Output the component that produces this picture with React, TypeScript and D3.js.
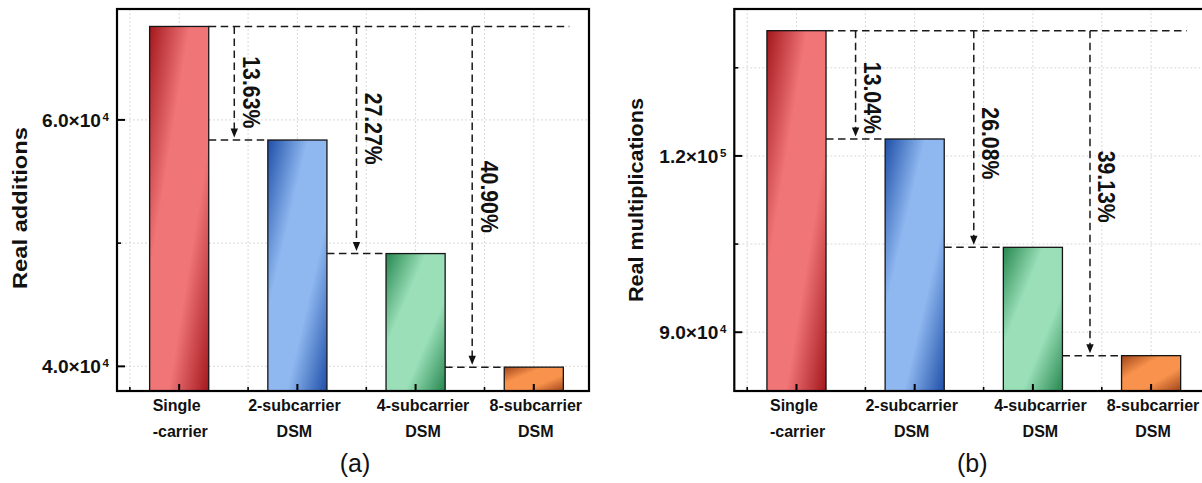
import React from "react";
import * as d3 from "d3";

// ---------- data ----------
const catLine1 = ["Single", "2-subcarrier", "4-subcarrier", "8-subcarrier"];
const catLine2 = ["-carrier", "DSM", "DSM", "DSM"];
const additions = [67584, 58368, 49152, 39936];
const multiplications = [141312, 122880, 104448, 86016];
const addMajorTicks = [40000, 60000];
const addMinorTicks = [50000];
const addTickText = ["4.0×10", "6.0×10"];
const addTickExp = ["4", "4"];
const mulMajorTicks = [90000, 120000];
const mulMinorTicks = [105000, 135000];
const mulTickText = ["9.0×10", "1.2×10"];
const mulTickExp = ["4", "5"];
const addReductions = ["13.63%", "27.27%", "40.90%"];
const mulReductions = ["13.04%", "26.08%", "39.13%"];

// ---------- styles ----------
const darkColors = ["#a3171c", "#1f4fa8", "#26874f", "#a0441a"];
const lightColors = ["#f07577", "#8fb8f0", "#9adfb8", "#f8924c"];
const FONT = "'Liberation Sans', Arial, Helvetica, sans-serif";

type PanelProps = {
  id: string;
  left: number;
  values: number[];
  yDomain: [number, number];
  majorTicks: number[];
  minorTicks: number[];
  tickText: string[];
  tickExp: string[];
  reductions: string[];
  labelFrac: number[];
  arrowDx: number[];
  title: string;
  titleX: number;
  titleY: number;
  titleLen: number;
  caption: string;
};

const TOP = 9;
const BOTTOM = 391;
const PLOT_W = 472;
const catDx = [0, -3, 7.5, 2];

function Panel(p: PanelProps) {
  const x = d3.scaleLinear().domain([0.474, 4.467]).range([p.left, p.left + PLOT_W]);
  const y = d3.scaleLinear().domain(p.yDomain).range([BOTTOM, TOP]);
  const idx = p.values.map((_, i) => i + 1);
  const barHalf = x(1.25) - x(1);
  const minorX = idx.map((i) => i - 0.417);
  const topY = y(p.values[0]);
  const lastRight = x(idx[idx.length - 1]) + barHalf;
  const dash = "7.5,4.5";
  const dashW = 1.5;
  const dashC = "#1a1a1a";
  return (
    <g>
      {/* grid */}
      {[...p.majorTicks, ...p.minorTicks].map((t, i) => (
        <line key={"hg" + i} x1={p.left} x2={p.left + PLOT_W} y1={y(t)} y2={y(t)}
          stroke="#cfcfcf" strokeWidth={0.8} strokeDasharray="2,2" />
      ))}
      {[...idx, ...minorX].map((v, i) => (
        <line key={"vg" + i} x1={x(v)} x2={x(v)} y1={TOP} y2={BOTTOM}
          stroke="#cfcfcf" strokeWidth={0.8} strokeDasharray="2,2" />
      ))}
      {/* bars */}
      {p.values.map((v, i) => (
        <rect key={"b" + i} x={x(i + 1) - barHalf} y={y(v)} width={barHalf * 2}
          height={BOTTOM - y(v)} fill={`url(#${p.id}g${i})`} stroke="#151515" strokeWidth={1.3} />
      ))}
      {/* dashed annotations */}
      <line x1={x(1) + barHalf} x2={lastRight + 6} y1={topY} y2={topY}
        stroke={dashC} strokeWidth={dashW} strokeDasharray={dash} />
      {p.values.slice(1).map((v, k) => {
        const i = k + 1;
        const prevRight = x(i) + barHalf;
        const curLeft = x(i + 1) - barHalf;
        const ax = (prevRight + curLeft) / 2 + p.arrowDx[k];
        const by = y(v);
        const ly = topY + (by - topY) * p.labelFrac[k];
        return (
          <g key={"a" + k}>
            <line x1={prevRight} x2={curLeft} y1={by} y2={by}
              stroke={dashC} strokeWidth={dashW} strokeDasharray={dash} />
            <line x1={ax} x2={ax} y1={topY} y2={by - 10}
              stroke={dashC} strokeWidth={dashW} strokeDasharray={dash} />
            <path d={`M${ax - 3.7},${by - 11.5}L${ax + 3.7},${by - 11.5}L${ax},${by - 2.5}Z`} fill="#111" />
            <text transform={`translate(${ax + 8.5},${ly}) rotate(90)`} textAnchor="middle"
              fontFamily={FONT} fontWeight="bold" fontSize={24} textLength={72}
              lengthAdjust="spacingAndGlyphs" fill="#111">{p.reductions[k]}</text>
          </g>
        );
      })}
      {/* frame */}
      <rect x={p.left} y={TOP} width={PLOT_W} height={BOTTOM - TOP} fill="none" stroke="#000" strokeWidth={2.2} />
      {/* y ticks */}
      {p.majorTicks.map((t, i) => (
        <g key={"yt" + i}>
          <line x1={p.left} x2={p.left + 8} y1={y(t)} y2={y(t)} stroke="#000" strokeWidth={2} />
          <text x={p.left - 16} y={y(t) + 6.9} textAnchor="end" fontFamily={FONT} fontWeight="bold"
            fontSize={17.5} textLength={59} lengthAdjust="spacingAndGlyphs" fill="#111">{p.tickText[i]}</text>
          <text x={p.left - 8} y={y(t) + 0.8} textAnchor="end" fontFamily={FONT} fontWeight="bold"
            fontSize={11.5} fill="#111">{p.tickExp[i]}</text>
        </g>
      ))}
      {p.minorTicks.map((t, i) => (
        <line key={"ym" + i} x1={p.left} x2={p.left + 4} y1={y(t)} y2={y(t)} stroke="#000" strokeWidth={1.6} />
      ))}
      {/* x ticks */}
      {idx.map((v) => (
        <line key={"xt" + v} x1={x(v)} x2={x(v)} y1={BOTTOM} y2={BOTTOM - 7} stroke="#000" strokeWidth={2} />
      ))}
      {minorX.map((v, i) => (
        <line key={"xm" + i} x1={x(v)} x2={x(v)} y1={BOTTOM} y2={BOTTOM - 4} stroke="#000" strokeWidth={1.6} />
      ))}
      {/* category labels */}
      {idx.map((v, i) =>
        i === 0 ? (
          <g key={"cl" + i}>
            <text x={x(v) - 26.5} y={411} fontFamily={FONT} fontWeight="bold" fontSize={16} fill="#111">{catLine1[i]}</text>
            <text x={x(v) - 26.5} y={436.5} fontFamily={FONT} fontWeight="bold" fontSize={16} fill="#111">{catLine2[i]}</text>
          </g>
        ) : (
          <g key={"cl" + i}>
            <text x={x(v) + catDx[i]} y={411} textAnchor="middle" fontFamily={FONT} fontWeight="bold" fontSize={16} fill="#111">{catLine1[i]}</text>
            <text x={x(v) + catDx[i]} y={436.5} textAnchor="middle" fontFamily={FONT} fontWeight="bold" fontSize={16} fill="#111">{catLine2[i]}</text>
          </g>
        )
      )}
      {/* y title */}
      <text transform={`translate(${p.titleX},${p.titleY}) rotate(-90)`} textAnchor="middle"
        fontFamily={FONT} fontWeight="bold" fontSize={20.5} textLength={p.titleLen}
        lengthAdjust="spacingAndGlyphs" fill="#111">{p.title}</text>
      {/* caption */}
      <text x={p.left + PLOT_W / 2 + 2} y={471.5} textAnchor="middle" fontFamily={FONT} fontSize={25} fill="#111">{p.caption}</text>
    </g>
  );
}

export default function App() {
  return (
    <svg width={1202} height={483} style={{ position: "absolute", left: 0, top: 0, background: "#fff" }}>
      <defs>
        {["L", "R"].map((pid) =>
          darkColors.map((dc, i) => (
            <linearGradient key={pid + i} id={`${pid}g${i}`} x1="0" y1="0" x2="1" y2="1">
              <stop offset="0" stopColor={dc} />
              <stop offset="0.34" stopColor={lightColors[i]} />
              <stop offset="0.66" stopColor={lightColors[i]} />
              <stop offset="1" stopColor={dc} />
            </linearGradient>
          ))
        )}
      </defs>
      <rect x={0} y={0} width={1202} height={483} fill="#fff" />
      <Panel id="L" left={117} values={additions} yDomain={[38000, 69000]}
        majorTicks={addMajorTicks} minorTicks={addMinorTicks} tickText={addTickText} tickExp={addTickExp}
        reductions={addReductions} labelFrac={[0.58, 0.45, 0.5]} arrowDx={[-4, 0, -2.5]}
        title="Real additions" titleX={26.7} titleY={208} titleLen={162} caption="(a)" />
      <Panel id="R" left={734.3} values={multiplications} yDomain={[80000, 145000]}
        majorTicks={mulMajorTicks} minorTicks={mulMinorTicks} tickText={mulTickText} tickExp={mulTickExp}
        reductions={mulReductions} labelFrac={[0.62, 0.52, 0.48]} arrowDx={[0, 0, -2]}
        title="Real multiplications" titleX={643} titleY={200} titleLen={204} caption="(b)" />
    </svg>
  );
}
